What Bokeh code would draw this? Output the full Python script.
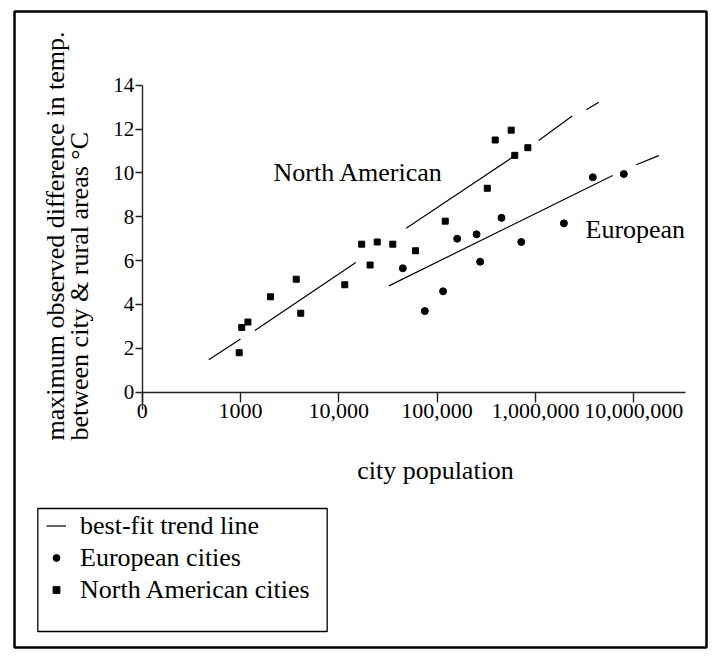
import math
from bokeh.plotting import figure
from bokeh.models import FixedTicker, Label, Legend, LegendItem, BoxAnnotation
from bokeh.embed import file_html
from bokeh.resources import INLINE

# ---------------- data ----------------
na_pop = [970, 1030, 1190, 2020, 3690, 4100, 11500, 17100, 20800, 24600,
          35400, 60300, 121000, 324000, 390000, 567000, 617000, 838000]
na_temp = [1.8, 2.95, 3.2, 4.35, 5.15, 3.6, 4.9, 6.75, 5.8, 6.85,
           6.75, 6.45, 7.8, 9.3, 11.5, 11.95, 10.8, 11.15]

eu_pop = [44800, 75000, 115000, 160000, 252000, 274000, 452000, 718000,
          1950000, 3840000, 7930000]
eu_temp = [5.65, 3.7, 4.6, 7.0, 7.2, 5.95, 7.95, 6.85, 7.7, 9.8, 9.95]

# best-fit trend lines, drawn as broken segments (population, temperature)
na_fit_pop = [[476, 1000], [1400, 14900], [48500, 589000],
              [1080000, 2370000], [3290000, 4420000]]
na_fit_temp = [[1.48, 2.43], [2.81, 5.91], [7.48, 10.72],
               [11.48, 12.59], [12.88, 13.22]]
eu_fit_pop = [[32300, 6120000], [10600000, 18000000]]
eu_fit_temp = [[4.85, 9.88], [10.37, 10.79]]

x_ticks = [100, 1000, 10000, 100000, 1000000, 10000000]
x_tick_labels = ["0", "1000", "10,000", "100,000", "1,000,000", "10,000,000"]
y_ticks = [0, 2, 4, 6, 8, 10, 12, 14]

# ---------------- layout helpers (page pixels -> data) ----------------
W, H = 709, 649
PX_100K, PX_DEC = 436.6, 98.3      # pixel of 100,000 and pixels per decade
PY_0, PY_UNIT = 391.7, 21.93       # pixel of 0 degC and pixels per degC


def xv(px):
    return 10 ** (5 + (px - PX_100K) / PX_DEC)


def yv(py):
    return (PY_0 - py) / PY_UNIT


SERIF = "Liberation Serif"

p = figure(width=W, height=H, x_axis_type="log",
           x_range=(xv(14), xv(706)), y_range=(yv(647), yv(11)),
           output_backend="svg", toolbar_location=None,
           min_border_left=14, min_border_right=3,
           min_border_top=11, min_border_bottom=2)
p.background_fill_color = "white"
p.border_fill_color = "white"
p.outline_line_color = "black"
p.outline_line_width = 2.5
p.xgrid.visible = False
p.ygrid.visible = False

# x axis
xa = p.xaxis[0]
xa.fixed_location = 0
xa.bounds = (100, 3.4e7)
xa.ticker = FixedTicker(ticks=x_ticks, minor_ticks=[])
xa.major_label_overrides = dict(zip(x_ticks, x_tick_labels))
xa.major_tick_out = 10
xa.major_tick_in = 0
xa.minor_tick_line_color = None
xa.axis_line_color = "#222222"
xa.axis_line_width = 1.4
xa.major_tick_line_color = "#222222"
xa.major_tick_line_width = 1.4
xa.major_label_standoff = 2
xa.major_label_text_font = SERIF
xa.major_label_text_font_size = "22px"
xa.major_label_text_color = "black"

# y axis
ya = p.yaxis[0]
ya.fixed_location = 100
ya.bounds = (yv(409), 14)
ya.ticker = FixedTicker(ticks=y_ticks, minor_ticks=[])
ya.major_tick_out = 7
ya.major_tick_in = 0
ya.minor_tick_line_color = None
ya.axis_line_color = "#222222"
ya.axis_line_width = 1.4
ya.major_tick_line_color = "#222222"
ya.major_tick_line_width = 1.4
ya.major_label_standoff = 1
ya.major_label_text_font = SERIF
ya.major_label_text_font_size = "21px"
ya.major_label_text_color = "black"

# glyphs
na_line = p.multi_line(xs=na_fit_pop, ys=na_fit_temp, line_color="black", line_width=1.2)
eu_line = p.multi_line(xs=eu_fit_pop, ys=eu_fit_temp, line_color="black", line_width=1.2)
eu = p.scatter(eu_pop, eu_temp, marker="circle", size=7, color="black")
na = p.scatter(na_pop, na_temp, marker="square", size=6, color="black")


# text annotations
def lab(x, y, text, **kw):
    d = dict(x=x, y=y, text=text, text_font=SERIF, text_font_size="26px",
             text_color="black", text_align="left", text_baseline="alphabetic")
    d.update(kw)
    p.add_layout(Label(**d))


lab(xv(273), yv(172), "North American")
lab(xv(585), yv(229.3), "European")
lab(xv(435), yv(470), "city population", text_align="center")
lab(xv(55), yv(440), "maximum observed difference in temp.", angle=math.pi / 2)
lab(xv(79), yv(440), "between city & rural areas \u00b0C", angle=math.pi / 2)

# legend
legend = Legend(items=[
    LegendItem(label="best-fit trend line", renderers=[na_line]),
    LegendItem(label="European cities", renderers=[eu]),
    LegendItem(label="North American cities", renderers=[na]),
], location=(32, 42.5), padding=0, margin=0, spacing=2,
    glyph_width=20, glyph_height=17, label_standoff=14,
    label_text_font=SERIF, label_text_font_size="26px",
    label_text_color="black",
    border_line_color=None, background_fill_alpha=0)
p.add_layout(legend)

p.add_layout(BoxAnnotation(left=xv(37.3), right=xv(326.7), top=yv(508), bottom=yv(631),
                           fill_alpha=0, line_color="black", line_width=1.3, line_alpha=1))

open("out.html", "w").write(file_html(p, INLINE))
